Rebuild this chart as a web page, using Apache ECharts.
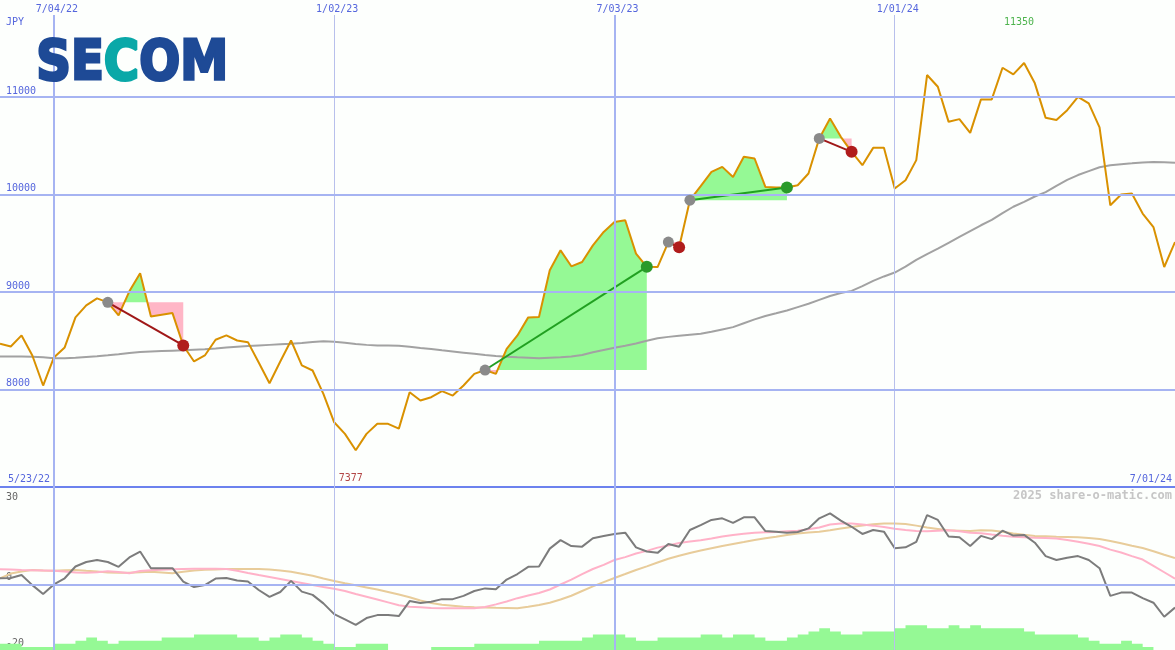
<!DOCTYPE html>
<html><head><meta charset="utf-8">
<script src="https://cdn.jsdelivr.net/npm/echarts@6/dist/echarts.min.js"></script>
<style>html,body{margin:0;padding:0;background:#fdfffd;}#c{width:1175px;height:650px;}</style>
</head><body><div id="c"></div>
<script>
// ---------------- data ----------------
const startDate = '2022-05-30';
const rangeStart = '2022-05-30';
const rangeEnd = '2024-07-01';
const price = [8470,8442,8555,8349,8041,8329,8432,8740,8863,8935,
  8894,8760,9007,9192,8750,8767,8784,8452,8288,8349,
  8511,8555,8503,8486,8277,8065,8288,8503,8247,8195,
  7956,7664,7545,7377,7545,7648,7648,7599,7972,7887,
  7921,7983,7938,8041,8161,8200,8161,8418,8555,8740,
  8743,9223,9428,9264,9308,9479,9616,9719,9736,9394,
  9259,9256,9513,9459,9942,10086,10233,10284,10181,10387,
  10370,10078,10072,10072,10096,10216,10576,10781,10592,10438,
  10301,10479,10479,10062,10147,10353,11226,11106,10746,10774,
  10633,10976,10976,11301,11233,11350,11141,10787,10764,10866,
  11003,10935,10689,9890,10000,10011,9805,9667,9257,9513];
const movingAvg = [8339,8339,8338,8335,8330,8320,8322,8326,8334,8342,
  8352,8363,8375,8384,8390,8394,8398,8402,8408,8414,
  8422,8432,8440,8446,8452,8458,8464,8470,8478,8488,
  8496,8490,8480,8468,8458,8452,8452,8448,8438,8425,
  8415,8402,8390,8378,8366,8354,8345,8337,8330,8326,
  8322,8326,8330,8338,8355,8382,8405,8428,8448,8472,
  8500,8526,8540,8552,8562,8572,8592,8616,8640,8680,
  8720,8755,8782,8810,8845,8880,8920,8960,8990,9012,
  9060,9115,9160,9200,9260,9330,9390,9445,9505,9565,
  9625,9685,9740,9810,9875,9925,9980,10025,10090,10150,
  10200,10240,10280,10300,10312,10320,10330,10335,10332,10326];
const oscillator = [2.0,2.1,3.0,-0.1,-2.8,0.1,2.0,5.6,7.0,7.6,
  7.0,5.5,8.4,10.2,5.1,5.1,5.1,1.0,-0.7,-0.1,
  1.9,2.1,1.3,1.0,-1.6,-3.7,-2.2,1.2,-2.1,-3.1,
  -5.7,-9.0,-10.6,-12.3,-10.2,-9.3,-9.3,-9.6,-5.0,-5.6,
  -5.2,-4.4,-4.4,-3.4,-1.9,-1.1,-1.4,1.6,3.3,5.5,
  5.6,11.1,13.7,11.9,11.7,14.3,15.0,15.6,16.0,11.5,
  10.2,9.8,12.5,11.7,16.8,18.3,19.9,20.4,19.0,20.7,
  20.7,16.5,16.3,16.0,16.2,17.3,20.4,21.9,19.7,17.8,
  15.6,16.8,16.3,11.2,11.5,13.2,21.4,19.9,14.8,14.6,
  11.9,15.0,14.0,16.6,15.1,15.3,12.9,8.8,7.6,8.3,
  8.8,7.6,5.1,-3.4,-2.4,-2.4,-4.1,-5.5,-9.8,-7.0];
const signalFast = [4.75,4.66,4.54,4.48,4.42,4.33,4.05,3.74,3.71,3.83,
  4.14,3.93,3.56,4.23,4.45,4.6,4.75,4.85,4.9,4.94,
  4.94,4.85,4.3,3.62,3.0,2.4,1.8,1.17,0.55,-0.06,
  -0.67,-1.23,-1.9,-2.8,-3.65,-4.5,-5.4,-6.3,-6.7,-6.9,
  -7.1,-7.2,-7.2,-7.2,-7.2,-6.8,-6.0,-5.1,-4.1,-3.3,
  -2.5,-1.45,0.1,1.6,3.3,4.85,6.1,7.6,8.5,9.6,
  10.4,11.4,12.05,12.8,13.25,13.65,14.2,14.8,15.3,15.65,
  16.0,16.1,16.2,16.4,16.55,17.05,17.6,18.5,18.8,18.8,
  18.5,18.15,17.7,17.2,16.8,16.5,16.4,16.6,16.7,16.4,
  16.0,15.8,15.4,15.05,14.75,14.6,14.45,14.35,14.2,13.75,
  13.2,12.6,11.9,10.8,9.9,8.8,7.75,5.8,3.85,1.85];
const signalSlow = [2.0,3.45,4.1,4.55,4.4,4.33,4.45,4.55,4.3,4.1,
  3.8,3.7,3.7,3.85,4.0,3.8,3.55,4.0,4.4,4.6,
  4.7,4.85,4.85,4.85,4.85,4.7,4.35,4.0,3.4,2.8,
  1.95,1.15,0.45,-0.15,-0.8,-1.45,-2.2,-3.0,-3.8,-4.8,
  -5.6,-6.1,-6.4,-6.7,-6.85,-6.95,-7.05,-7.1,-7.2,-6.75,
  -6.2,-5.5,-4.5,-3.35,-1.9,-0.5,0.8,2.1,3.3,4.55,
  5.65,6.85,8.0,8.9,9.75,10.5,11.2,11.9,12.5,13.1,
  13.75,14.3,14.75,15.3,15.75,16.05,16.25,16.7,17.25,17.7,
  18.2,18.55,18.8,18.8,18.65,18.15,17.6,17.15,16.7,16.6,
  16.5,16.7,16.65,16.25,15.75,15.35,15.0,14.9,14.75,14.7,
  14.55,14.35,14.05,13.45,12.75,12.0,11.3,10.3,9.2,8.2];
const volumeLevel = [2,2,1,1,1,2,2,3,4,3,
  2,3,3,3,3,4,4,4,5,5,
  5,5,4,4,3,4,5,5,4,3,
  2,1,1,2,2,2,0,0,0,0,
  1,1,1,1,2,2,2,2,2,2,
  3,3,3,3,4,5,5,5,4,3,
  3,4,4,4,4,5,5,4,5,5,
  4,3,3,4,5,6,7,6,5,5,
  6,6,6,7,8,8,7,7,8,7,
  8,7,7,7,7,6,5,5,5,5,
  4,3,2,2,3,2,1,0,0,0];
const tradeEntry = [10,45,62,64,76];
const tradeExit  = [17,60,63,73,79];
const tickDates  = ['2022-07-04','2023-01-02','2023-07-03','2024-01-01'];
const tickLabels = ['7/04/22','1/02/23','7/03/23','1/01/24'];
const tickMajor  = [true,false,true,false];
const priceGrid  = [8000,9000,10000,11000];
const rangeLabels = ['5/23/22','7/01/24'];
const currency = 'JPY';
const brand = ['SE','C','OM'];
const credit = '2025 share-o-matic.com';

// ---------------- helpers ----------------
function ts(s){const p=s.split('-').map(Number);return new Date(p[0],p[1]-1,p[2]).getTime();}
const t0 = ts(startDate);
const d0 = new Date(t0);
const dates = price.map((_,i)=>new Date(d0.getFullYear(),d0.getMonth(),d0.getDate()+7*i).getTime());
const pair = arr => arr.map((v,i)=>[dates[i],v]);
const xMin = ts(rangeStart), xMax = ts(rangeEnd);
const yMin = 7000, yMax = 11842;
let minIdx=0,maxIdx=0;
price.forEach((v,i)=>{if(v<price[minIdx])minIdx=i;if(v>price[maxIdx])maxIdx=i;});

const MONO = '"DejaVu Sans Mono", monospace';
const BLUE = '#5566dd';
const GRID = '#a6b4f2';
const GRID_LIGHT = '#b8c0ec';
const GREEN_FILL = '#95f995';
const PINK_FILL = '#ffb6c6';
const LOGO_FONT = '"DejaVu Sans", sans-serif';

function renderFill(params, api){
  const e = api.value(4), x = api.value(5);
  const ly = api.coord([dates[e], price[e]])[1];
  const pts = [];
  for(let k=e;k<=x;k++) pts.push(api.coord([dates[k], price[k]]));
  const up=[[pts[0][0],ly]], dn=[[pts[0][0],ly]];
  for(let k=0;k<pts.length;k++){
    const p=pts[k];
    if(k>0){const q=pts[k-1];
      if((q[1]-ly)*(p[1]-ly)<0){const t=(ly-q[1])/(p[1]-q[1]);const cx=q[0]+t*(p[0]-q[0]);up.push([cx,ly]);dn.push([cx,ly]);}
    }
    up.push([p[0],Math.min(p[1],ly)]);
    dn.push([p[0],Math.max(p[1],ly)]);
  }
  const last=pts[pts.length-1];
  up.push([last[0],ly]);dn.push([last[0],ly]);
  return {type:'group',children:[
    {type:'polygon',shape:{points:up},style:{fill:GREEN_FILL}},
    {type:'polygon',shape:{points:dn},style:{fill:PINK_FILL}}
  ]};
}

const verticalMain = tickDates.map((d,k)=>({xAxis:ts(d),name:tickLabels[k],
  lineStyle:{width:tickMajor[k]?2:1,color:tickMajor[k]?GRID:GRID_LIGHT,type:'solid'}}));
const verticalLow = tickDates.map((d,k)=>({xAxis:ts(d),
  lineStyle:{width:tickMajor[k]?2:1,color:tickMajor[k]?GRID:GRID_LIGHT,type:'solid'}}));
const horizontalMain = priceGrid.map(v=>({yAxis:v,lineStyle:{width:2,color:GRID,type:'solid'}}));

const labelStyle = {fontFamily:MONO,fontSize:10,fontWeight:'normal',color:BLUE};

const option = {
  animation:false,
  backgroundColor:'#fdfffd',
  title:[
    {text:currency,left:6,top:17,padding:0,textStyle:labelStyle},
    {text:rangeLabels[0],left:8,top:474,padding:0,textStyle:labelStyle},
    {text:rangeLabels[1],right:3,top:474,padding:0,textStyle:labelStyle},
    {text:credit,right:3,top:490,padding:0,textStyle:{fontFamily:MONO,fontSize:12,fontWeight:'bold',color:'#c6c6c6'}}
  ],
  graphic:[
    {type:'text',left:35,top:35,scaleX:0.86,z:10,
      style:{text:'{a|'+brand[0]+'}{b|'+brand[1]+'}{a|'+brand[2]+'}',
        rich:{
          a:{font:'bold 56px '+LOGO_FONT,fill:'#1e4a96',stroke:'#1e4a96',lineWidth:3},
          b:{font:'bold 56px '+LOGO_FONT,fill:'#0aa8a8',stroke:'#0aa8a8',lineWidth:3}
        }}}
  ],
  grid:[
    {left:0,right:0,top:15,height:472},
    {left:0,right:0,top:487,height:163}
  ],
  xAxis:[
    {type:'time',gridIndex:0,min:xMin,max:xMax,axisLabel:{show:false},axisTick:{show:false},splitLine:{show:false},
      axisLine:{show:true,lineStyle:{color:'#6c82ee',width:2}}},
    {type:'time',gridIndex:1,min:xMin,max:xMax,axisLabel:{show:false},axisTick:{show:false},splitLine:{show:false},axisLine:{show:false}}
  ],
  yAxis:[
    {type:'value',gridIndex:0,position:'left',min:yMin,max:yMax,interval:1000,splitLine:{show:false},axisLine:{show:false},axisTick:{show:false},
      axisLabel:{inside:true,margin:6,verticalAlign:'bottom',showMinLabel:false,showMaxLabel:false,fontFamily:MONO,fontSize:10,color:BLUE,padding:[0,0,1,0],
        formatter:v=>String(v)}},
    {type:'value',gridIndex:1,position:'left',min:-20,max:30,interval:20,splitLine:{show:false},axisLine:{show:false},axisTick:{show:false},
      axisLabel:{inside:true,margin:6,verticalAlign:'bottom',showMaxLabel:false,fontFamily:MONO,fontSize:10,color:'#666',padding:[0,0,2,0],
        formatter:v=>(v===0||v===-20)?String(v):''}},
    {type:'value',gridIndex:1,position:'left',offset:0,min:-20,max:30,interval:50,splitLine:{show:false},axisLine:{show:false},axisTick:{show:false},
      axisLabel:{inside:true,margin:6,verticalAlign:'top',showMinLabel:false,fontFamily:MONO,fontSize:10,color:'#666',padding:[5,0,0,0],
        formatter:v=>v===30?'30':''}},
    {type:'value',gridIndex:1,position:'left',min:0,max:52.6,show:false,splitLine:{show:false}}
  ],
  series:[
    {type:'line',xAxisIndex:0,yAxisIndex:0,data:pair(price),symbol:'none',silent:true,z:0,lineStyle:{opacity:0},
      markLine:{silent:true,symbol:['none','none'],
        label:{show:true,position:'end',formatter:'{b}',distance:1,offset:[3,0],fontFamily:MONO,fontSize:10,color:BLUE},
        data:verticalMain}},
    {type:'line',xAxisIndex:0,yAxisIndex:0,data:pair(price),symbol:'none',silent:true,z:0,lineStyle:{opacity:0},
      markLine:{silent:true,symbol:['none','none'],label:{show:false},data:horizontalMain}},
    {type:'custom',xAxisIndex:0,yAxisIndex:0,z:1,silent:true,
      data:tradeEntry.map((e,j)=>[dates[e],price[e],dates[tradeExit[j]],price[tradeExit[j]],e,tradeExit[j]]),
      encode:{x:[0,2],y:[1,3]},renderItem:renderFill},
    {type:'line',xAxisIndex:0,yAxisIndex:0,data:pair(movingAvg),symbol:'none',z:2,lineStyle:{color:'#a2a2a2',width:2}},
    {type:'line',xAxisIndex:0,yAxisIndex:0,data:pair(price),symbol:'none',z:3,lineStyle:{color:'#d99100',width:2}},
    {type:'lines',coordinateSystem:'cartesian2d',xAxisIndex:0,yAxisIndex:0,z:4,
      data:tradeEntry.map((e,j)=>{const x=tradeExit[j];const win=price[x]>price[e];
        return {coords:[[dates[e],price[e]],[dates[x],price[x]]],lineStyle:{color:win?'#21a021':'#a01818',width:2,opacity:1}};})},
    {type:'scatter',xAxisIndex:0,yAxisIndex:0,z:5,symbolSize:11,itemStyle:{color:'#8a8a8a',opacity:1},
      data:tradeEntry.map(e=>[dates[e],price[e]])},
    {type:'scatter',xAxisIndex:0,yAxisIndex:0,z:5,symbolSize:12,
      data:tradeEntry.map((e,j)=>{const x=tradeExit[j];const win=price[x]>price[e];
        return {value:[dates[x],price[x]],itemStyle:{color:win?'#2a9a2a':'#b01c1c',opacity:1}};})},
    {type:'scatter',xAxisIndex:0,yAxisIndex:0,z:6,symbolSize:1,itemStyle:{color:'rgba(0,0,0,0)'},clip:false,silent:true,
      data:[
        {name:String(price[minIdx]),value:[dates[minIdx],yMin],label:{show:true,position:'top',distance:3,offset:[-5,0],formatter:'{b}',color:'#a01818',fontFamily:MONO,fontSize:10}},
        {name:String(price[maxIdx]),value:[dates[maxIdx],yMax],label:{show:true,position:'bottom',distance:2,offset:[-5,0],formatter:'{b}',color:'#21a021',fontFamily:MONO,fontSize:10}}
      ]},
    // lower panel
    {type:'line',xAxisIndex:1,yAxisIndex:1,data:pair(oscillator),symbol:'none',silent:true,z:0,lineStyle:{opacity:0},
      markLine:{silent:true,symbol:['none','none'],label:{show:false},
        data:verticalLow.concat([{yAxis:0,lineStyle:{width:2,color:GRID,type:'solid'}}])}},
    {type:'line',xAxisIndex:1,yAxisIndex:3,data:pair(volumeLevel),step:'end',symbol:'none',z:1,
      lineStyle:{width:0},areaStyle:{color:'#95f995',opacity:1}},
    {type:'line',xAxisIndex:1,yAxisIndex:1,data:pair(signalSlow),symbol:'none',z:2,lineStyle:{color:'#e8cc9a',width:2}},
    {type:'line',xAxisIndex:1,yAxisIndex:1,data:pair(signalFast),symbol:'none',z:2,lineStyle:{color:'#ffb2c8',width:2}},
    {type:'line',xAxisIndex:1,yAxisIndex:1,data:pair(oscillator),symbol:'none',z:3,lineStyle:{color:'#7c7c7c',width:2}}
  ]
};
const chart = echarts.init(document.getElementById('c'));
chart.setOption(option);
</script>
</body></html>
